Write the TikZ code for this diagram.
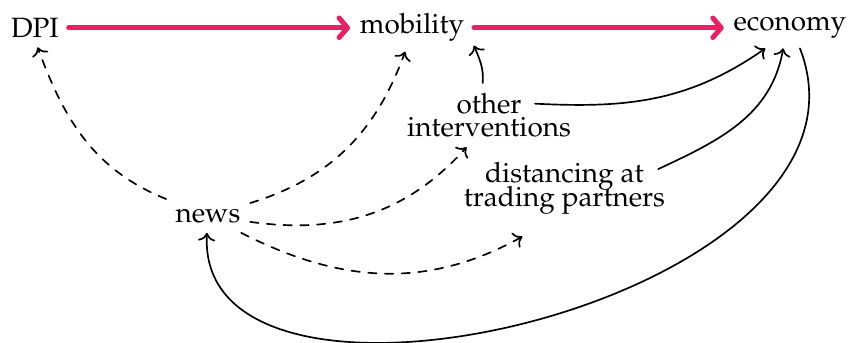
\documentclass[tikz,border=0pt]{standalone}
\usepackage[T1]{fontenc}
\usepackage{mathpazo}
\usetikzlibrary{arrows.meta}
\definecolor{hotpink}{HTML}{EC1F63}

\begin{document}
\begin{tikzpicture}[line cap=round, line join=round, >=To,
  causal/.style={->, semithick},
  maybe/.style={->, semithick, dashed},
  mainpath/.style={-{Straight Barb[round,length=3pt,width=7pt]}, line width=1.8pt, hotpink}]

\useasboundingbox (0,0) rectangle (10.72,4.32);

\node (DPI) at (0.44,3.97) {DPI};
\node (mob) at (5.19,3.97) {mobility};
\node (eco) at (9.95,3.97) {economy};
\node[align=center] (oth) at (6.16,2.87) {other\\[-3.5pt]interventions};
\node[align=center] (dist) at (7.11,1.95) {distancing at\\[-3.5pt]trading partners};
\node (news) at (2.62,1.60) {news};

\draw[mainpath] (DPI) -- (mob);
\draw[mainpath] (mob) -- (eco);

% news
\draw[maybe] (news) to[out=158, in=-70] (DPI.-82);
\draw[maybe] (news) to[out=17, in=-110] (mob.-106);
\draw[maybe] (news) to[out=-8, in=-132] (oth.-125);
\draw[maybe] (news) to[out=-27, in=-151] ([shift={(-0.53,-0.16)}]dist.south);

\draw[causal] ([xshift=-0.08cm]oth.north) to[out=85, in=-68] (mob.-16);
\draw[causal] ([shift={(0.58,-0.26)}]oth.north) to[out=-3, in=-145] (eco.-140);
\draw[causal] ([shift={(-0.21,-0.21)}]dist.north east) to[out=25, in=-100] (eco.-108);

% feedback
\draw[causal] (eco.-64) .. controls +(1.23,-3.15) and +(-0.18,-3.1) .. (news);

\end{tikzpicture}
\end{document}
